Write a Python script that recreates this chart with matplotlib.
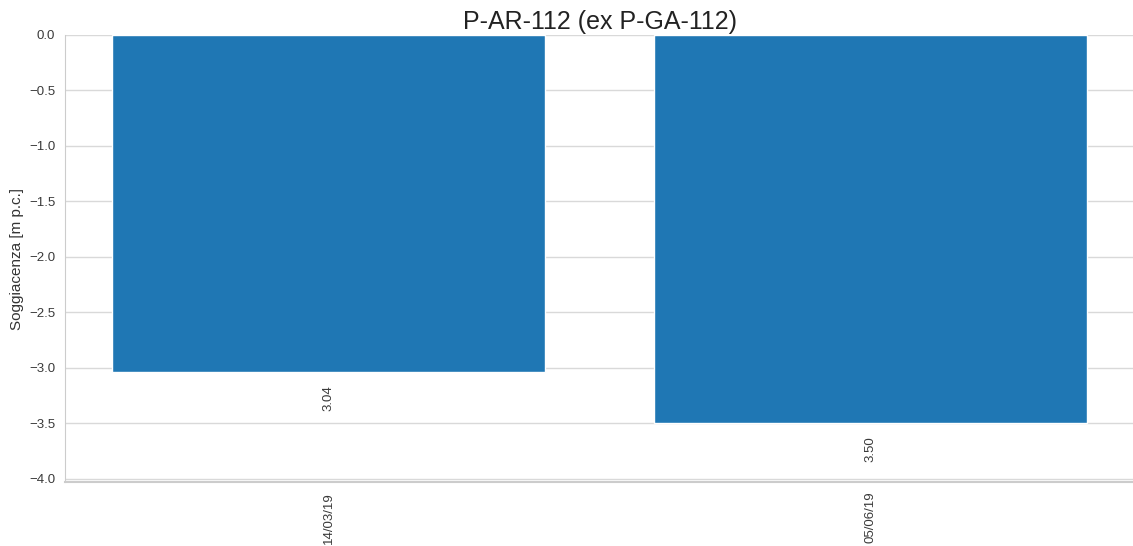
import numpy as np
import matplotlib.pyplot as plt
import seaborn as sns

dates = ["14/03/19", "05/06/19"]
soggiacenza = [3.04, 3.50]

sns.set_style("whitegrid")
plt.rcParams['font.family'] = ['Liberation Sans', 'DejaVu Sans']

fig = plt.figure(figsize=(11.33, 5.46), dpi=100)
ax = fig.add_axes([0.0574, 0.117, 0.945, 0.819])

x = np.arange(len(dates))
vals = -np.array(soggiacenza)
bars = ax.bar(x, vals, width=0.8, color='#1f77b4', zorder=2)

for xi, v in zip(x, soggiacenza):
    ax.text(xi, -v - 0.12, f"{v:.2f}", rotation=90, ha='center', va='top',
            fontsize=9.5, color='#3a3a3a')

ax.set_xticks(x)
ax.set_xticklabels(dates, rotation=90, fontsize=9.5, color='#3a3a3a')
ax.set_xlim(-0.487, 1.49)
ax.set_ylim(-4.03, 0)
ax.set_yticks(np.arange(-4.0, 0.01, 0.5))
ax.tick_params(axis='y', labelsize=9.5, labelcolor='#3a3a3a')
ax.set_ylabel("Soggiacenza [m p.c.]", fontsize=11, color='#333333')
ax.set_title("P-AR-112 (ex P-GA-112)", fontsize=18, color='#222222', pad=4)

ax.grid(axis='x', visible=False)
ax.grid(axis='y', color='#d9d9d9', linewidth=1)
for s in ['top', 'right']:
    ax.spines[s].set_visible(False)
ax.spines['left'].set_color('#cccccc')
ax.spines['bottom'].set_color('#cccccc')
ax.spines['bottom'].set_linewidth(1.5)

fig.savefig("out.png", dpi=100)
